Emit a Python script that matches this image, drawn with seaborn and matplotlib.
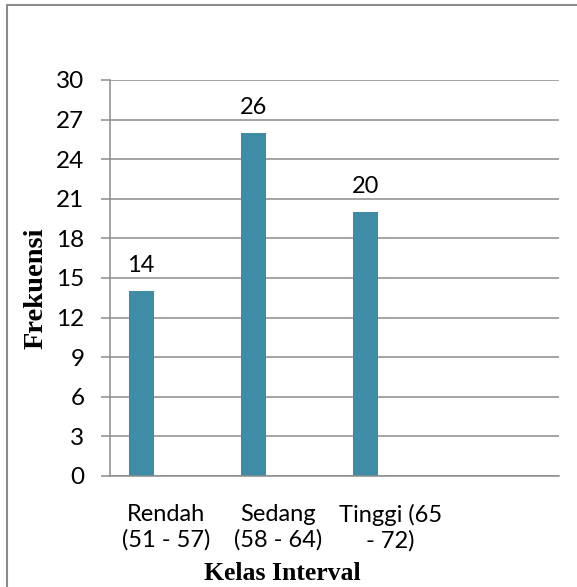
import matplotlib
matplotlib.use("Agg")
import matplotlib.pyplot as plt
import matplotlib.patches as mpatches
import pandas as pd
import seaborn as sns

# Data
categories = ["Rendah\n(51 - 57)", "Sedang\n(58 - 64)", "Tinggi (65\n- 72)"]
frekuensi = [14, 26, 20]
series = ["Frekuensi", "Seri 2", "Seri 3"]
y_ticks = [0, 3, 6, 9, 12, 15, 18, 21, 24, 27, 30]

sns.set_theme(style="white")
plt.rcParams["font.family"] = ["Lato", "DejaVu Sans"]

bar_color = "#3E8CA5"
grid_color = "#8C8C8C"

df = pd.DataFrame({
    "Kelas": categories,
    "Nilai": frekuensi,
    "Seri": [series[0]] * len(categories),
})

fig = plt.figure(figsize=(5.77, 5.87), dpi=100)
ax = fig.add_axes([110 / 577, 1 - 476 / 587, 449 / 577, 396 / 587])

sns.barplot(
    data=df, x="Kelas", y="Nilai", hue="Seri", hue_order=series,
    order=categories, palette=[bar_color] * 3, width=0.668, dodge=True,
    saturation=1, legend=False, ax=ax, errorbar=None,
)
for p in ax.patches:
    p.set_edgecolor("none")

ax.set_xlim(-0.5, 3.5)
ax.set_ylim(0, 30)
ax.set_yticks(y_ticks)
ax.set_yticklabels([str(v) for v in y_ticks])

ax.yaxis.grid(True, color=grid_color, linewidth=1.1)
ax.set_axisbelow(True)
for side in ("top", "right"):
    ax.spines[side].set_visible(False)
for side in ("left", "bottom"):
    ax.spines[side].set_color(grid_color)
    ax.spines[side].set_linewidth(1.1)

ax.tick_params(axis="y", length=6.5, width=1.1, color=grid_color,
               labelsize=17.5, pad=12, labelcolor="black", left=True)
ax.tick_params(axis="x", length=0, labelsize=17, pad=20, labelcolor="black")
for lbl in ax.get_xticklabels():
    lbl.set_linespacing(1.25)

# Value labels above bars
for p, v in zip(ax.patches, frekuensi):
    ax.annotate(str(v), (p.get_x() + p.get_width() / 2, v),
                xytext=(0, 13.5), textcoords="offset points",
                ha="center", va="baseline", fontsize=17, color="black")

ax.set_xlabel("Kelas Interval", fontsize=18.5, fontweight="bold",
              family="Liberation Serif", color="black")
ax.set_ylabel("Frekuensi", fontsize=20.5, fontweight="bold",
              family="Liberation Serif", color="black")
ax.xaxis.set_label_coords((282 - 110) / 449, (476 - 573) / 396)
ax.xaxis.label.set_va("center")
ax.yaxis.set_label_coords((36 - 110) / 449, (476 - 288) / 396)
ax.yaxis.label.set_va("center")

# Outer frame of the chart area
frame = mpatches.Rectangle((7 / 577, -0.1), 1.2, 1.1 - 5 / 587,
                           transform=fig.transFigure, fill=False,
                           edgecolor=grid_color, linewidth=1.5, clip_on=False)
fig.patches.append(frame)

fig.savefig("out.png", dpi=100, facecolor="white")
